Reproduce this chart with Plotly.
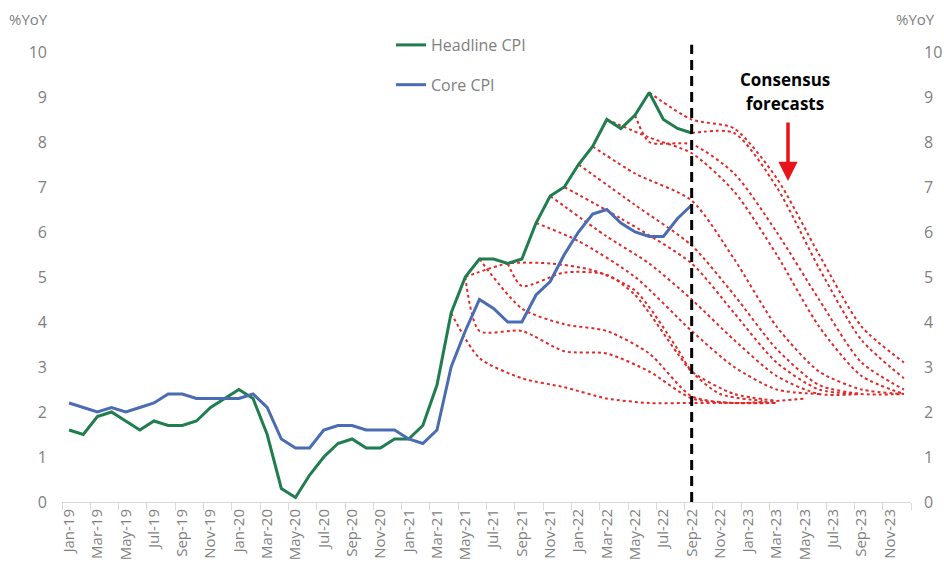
import plotly.graph_objects as go

# ---------------- data ----------------
month_names = ["Jan", "Feb", "Mar", "Apr", "May", "Jun", "Jul", "Aug", "Sep", "Oct", "Nov", "Dec"]
years = ["19", "20", "21", "22", "23"]
months = [f"{m}-{y}" for y in years for m in month_names]  # Jan-19 .. Dec-23

headline_cpi = [1.6, 1.5, 1.9, 2.0, 1.8, 1.6, 1.8, 1.7, 1.7, 1.8, 2.1, 2.3,
                2.5, 2.3, 1.5, 0.3, 0.1, 0.6, 1.0, 1.3, 1.4, 1.2, 1.2, 1.4,
                1.4, 1.7, 2.6, 4.2, 5.0, 5.4, 5.4, 5.3, 5.4, 6.2, 6.8, 7.0,
                7.5, 7.9, 8.5, 8.3, 8.6, 9.1, 8.5, 8.3, 8.2]
core_cpi = [2.2, 2.1, 2.0, 2.1, 2.0, 2.1, 2.2, 2.4, 2.4, 2.3, 2.3, 2.3,
            2.3, 2.4, 2.1, 1.4, 1.2, 1.2, 1.6, 1.7, 1.7, 1.6, 1.6, 1.6,
            1.4, 1.3, 1.6, 3.0, 3.8, 4.5, 4.3, 4.0, 4.0, 4.6, 4.9, 5.5,
            6.0, 6.4, 6.5, 6.2, 6.0, 5.9, 5.9, 6.3, 6.6]

# consensus forecast paths (month, value)
fc_jun22 = (["Jun-22", "Sep-22", "Dec-22", "Mar-23", "Jun-23", "Sep-23", "Dec-23"],
            [9.1, 8.5, 8.3, 7.2, 5.5, 3.9, 3.1])
fc_sep22 = (["Sep-22", "Dec-22", "Mar-23", "Jun-23", "Sep-23", "Dec-23"],
            [8.2, 8.2, 7.0, 5.2, 3.6, 2.75])
fc_may22 = (["May-22", "Jun-22", "Sep-22", "Dec-22", "Mar-23", "Jun-23", "Sep-23", "Dec-23"],
            [8.6, 8.0, 7.95, 7.3, 6.0, 4.5, 3.1, 2.5])
fc_mar22 = (["Mar-22", "Jun-22", "Sep-22", "Dec-22", "Mar-23", "Jun-23", "Sep-23", "Dec-23"],
            [8.5, 8.1, 7.75, 6.9, 5.5, 3.9, 2.8, 2.4])
fc_feb22 = (["Feb-22", "May-22", "Sep-22", "Dec-22", "Mar-23", "Jun-23", "Sep-23", "Dec-23"],
            [7.9, 7.3, 6.7, 5.4, 3.9, 2.9, 2.5, 2.4])
fc_jan22 = (["Jan-22", "May-22", "Sep-22", "Dec-22", "Mar-23", "Jun-23", "Sep-23", "Dec-23"],
            [7.5, 6.6, 5.7, 4.6, 3.4, 2.6, 2.4, 2.4])
fc_dec21 = (["Dec-21", "Apr-22", "Sep-22", "Dec-22", "Mar-23", "Jun-23", "Sep-23"],
            [7.0, 6.3, 5.3, 4.2, 3.1, 2.5, 2.4])
fc_nov21 = (["Nov-21", "Mar-22", "Jun-22", "Sep-22", "Dec-22", "Mar-23", "Jun-23", "Sep-23"],
            [6.8, 5.9, 5.3, 4.5, 3.6, 2.8, 2.4, 2.4])
fc_oct21 = (["Oct-21", "Jan-22", "May-22", "Sep-22", "Dec-22", "Mar-23", "Jun-23"],
            [6.2, 5.8, 5.0, 3.8, 3.0, 2.5, 2.4])
fc_aug21 = (["Aug-21", "Sep-21", "Dec-21", "Mar-22", "May-22", "Aug-22", "Sep-22", "Dec-22", "Mar-23"],
            [5.3, 4.8, 5.1, 5.05, 4.6, 3.3, 2.9, 2.4, 2.25])
fc_may21b = (["May-21", "Aug-21", "Nov-21", "Feb-22", "May-22", "Aug-22", "Sep-22", "Nov-22", "Feb-23"],
             [5.0, 5.3, 5.3, 5.15, 4.7, 3.4, 2.9, 2.4, 2.25])
fc_jun21 = (["Jun-21", "Sep-21", "Dec-21", "Mar-22", "Jun-22", "Sep-22", "Dec-22", "May-23"],
            [5.4, 4.3, 3.95, 3.8, 3.3, 2.35, 2.2, 2.3])
fc_may21a = (["May-21", "Jun-21", "Sep-21", "Dec-21", "Mar-22", "Jun-22", "Sep-22", "Dec-22", "Mar-23"],
             [5.0, 3.8, 3.8, 3.35, 3.3, 2.9, 2.3, 2.2, 2.2])
fc_apr21 = (["Apr-21", "Jun-21", "Sep-21", "Dec-21", "Mar-22", "Jun-22", "Sep-22", "Dec-22", "Mar-23"],
            [4.2, 3.2, 2.75, 2.55, 2.3, 2.2, 2.2, 2.2, 2.2])

forecasts = [fc_jun22, fc_sep22, fc_may22, fc_mar22, fc_feb22, fc_jan22, fc_dec21,
             fc_nov21, fc_oct21, fc_aug21, fc_may21b, fc_jun21, fc_may21a, fc_apr21]

y_ticks = list(range(0, 11))
marker_month = "Sep-22"

# ---------------- styles ----------------
GREEN = "#1f7d4e"
BLUE = "#4a6cb3"
RED = "#e02a2a"
GREY = "#7f7f7f"
FONT = "Open Sans"

fig = go.Figure()

for fx, fy in forecasts:
    fig.add_trace(go.Scatter(
        x=fx, y=fy, mode="lines", showlegend=False, hoverinfo="skip",
        line=dict(color=RED, width=2, dash="dot", shape="spline", smoothing=0.7)))

fig.add_trace(go.Scatter(
    x=months[:len(headline_cpi)], y=headline_cpi, mode="lines", name="Headline CPI",
    legendgroup="h", line=dict(color=GREEN, width=3)))
fig.add_trace(go.Scatter(
    x=months[:len(core_cpi)], y=core_cpi, mode="lines", name="Core CPI",
    legendgroup="c", line=dict(color=BLUE, width=3)))

# invisible trace for right axis
fig.add_trace(go.Scatter(x=[months[0]], y=[0], yaxis="y2", mode="lines",
                         showlegend=False, hoverinfo="skip", line=dict(width=0)))

fig.add_shape(type="line", xref="x", yref="paper", x0=marker_month, x1=marker_month,
              y0=0, y1=1.016, line=dict(color="black", width=3, dash="10px,6px"))

L, R, T, B = 62, 33, 52, 71
W, H = 944, 573
pw, ph = W - L - R, H - T - B


def px(x):
    return (x - L) / pw


def py(y):
    return (H - B - y) / ph


def label(text, x, y, size, color, bold=False):
    return dict(text=f"<b>{text}</b>" if bold else text, x=px(x), y=py(y),
                xref="paper", yref="paper", xanchor="center", yanchor="middle",
                showarrow=False, font=dict(family=FONT, size=size, color=color))


annotations = [
    label("%YoY", 28, 19, 15, GREY),
    label("%YoY", 915, 19, 15, GREY),
    label("Consensus", 785, 79, 17, "black", bold=True),
    label("forecasts", 785, 104, 17, "black", bold=True),
    dict(text="", x=px(788), y=py(181), xref="paper", yref="paper",
         ax=0, ay=-60, axref="pixel", ayref="pixel", showarrow=True,
         arrowhead=2, arrowsize=1.1, arrowwidth=3.5, arrowcolor="#e8141c"),
]

fig.update_layout(
    width=W, height=H,
    margin=dict(l=L, r=R, t=T, b=B, pad=0, autoexpand=False),
    paper_bgcolor="white", plot_bgcolor="white",
    font=dict(family=FONT, color=GREY),
    showlegend=True,
    legend=dict(x=px(391), y=py(28), xanchor="left", yanchor="top",
                bgcolor="rgba(0,0,0,0)", font=dict(family=FONT, size=16, color=GREY),
                tracegroupgap=16, traceorder="grouped", itemwidth=30),
    xaxis=dict(type="category", categoryorder="array", categoryarray=months,
               range=[-0.5, len(months) - 0.5], tickmode="linear", dtick=2, tick0=0,
               tickson="boundaries", ticks="outside", ticklen=7, tickcolor="#d9d9d9",
               tickangle=-90, tickfont=dict(family=FONT, size=15, color=GREY),
               showline=True, linecolor="#d9d9d9", linewidth=1, showgrid=False,
               zeroline=False, automargin=False),
    yaxis=dict(range=[0, 10], tickvals=y_ticks, showgrid=False, zeroline=False,
               showline=False, ticks="", ticklabelstandoff=14, automargin=False,
               tickfont=dict(family=FONT, size=16, color=GREY)),
    yaxis2=dict(range=[0, 10], tickvals=y_ticks, overlaying="y", side="right",
                showgrid=False, zeroline=False, showline=False, ticks="",
                ticklabelstandoff=12, automargin=False,
                tickfont=dict(family=FONT, size=16, color=GREY)),
    annotations=annotations,
)

fig.write_html("out.html")
